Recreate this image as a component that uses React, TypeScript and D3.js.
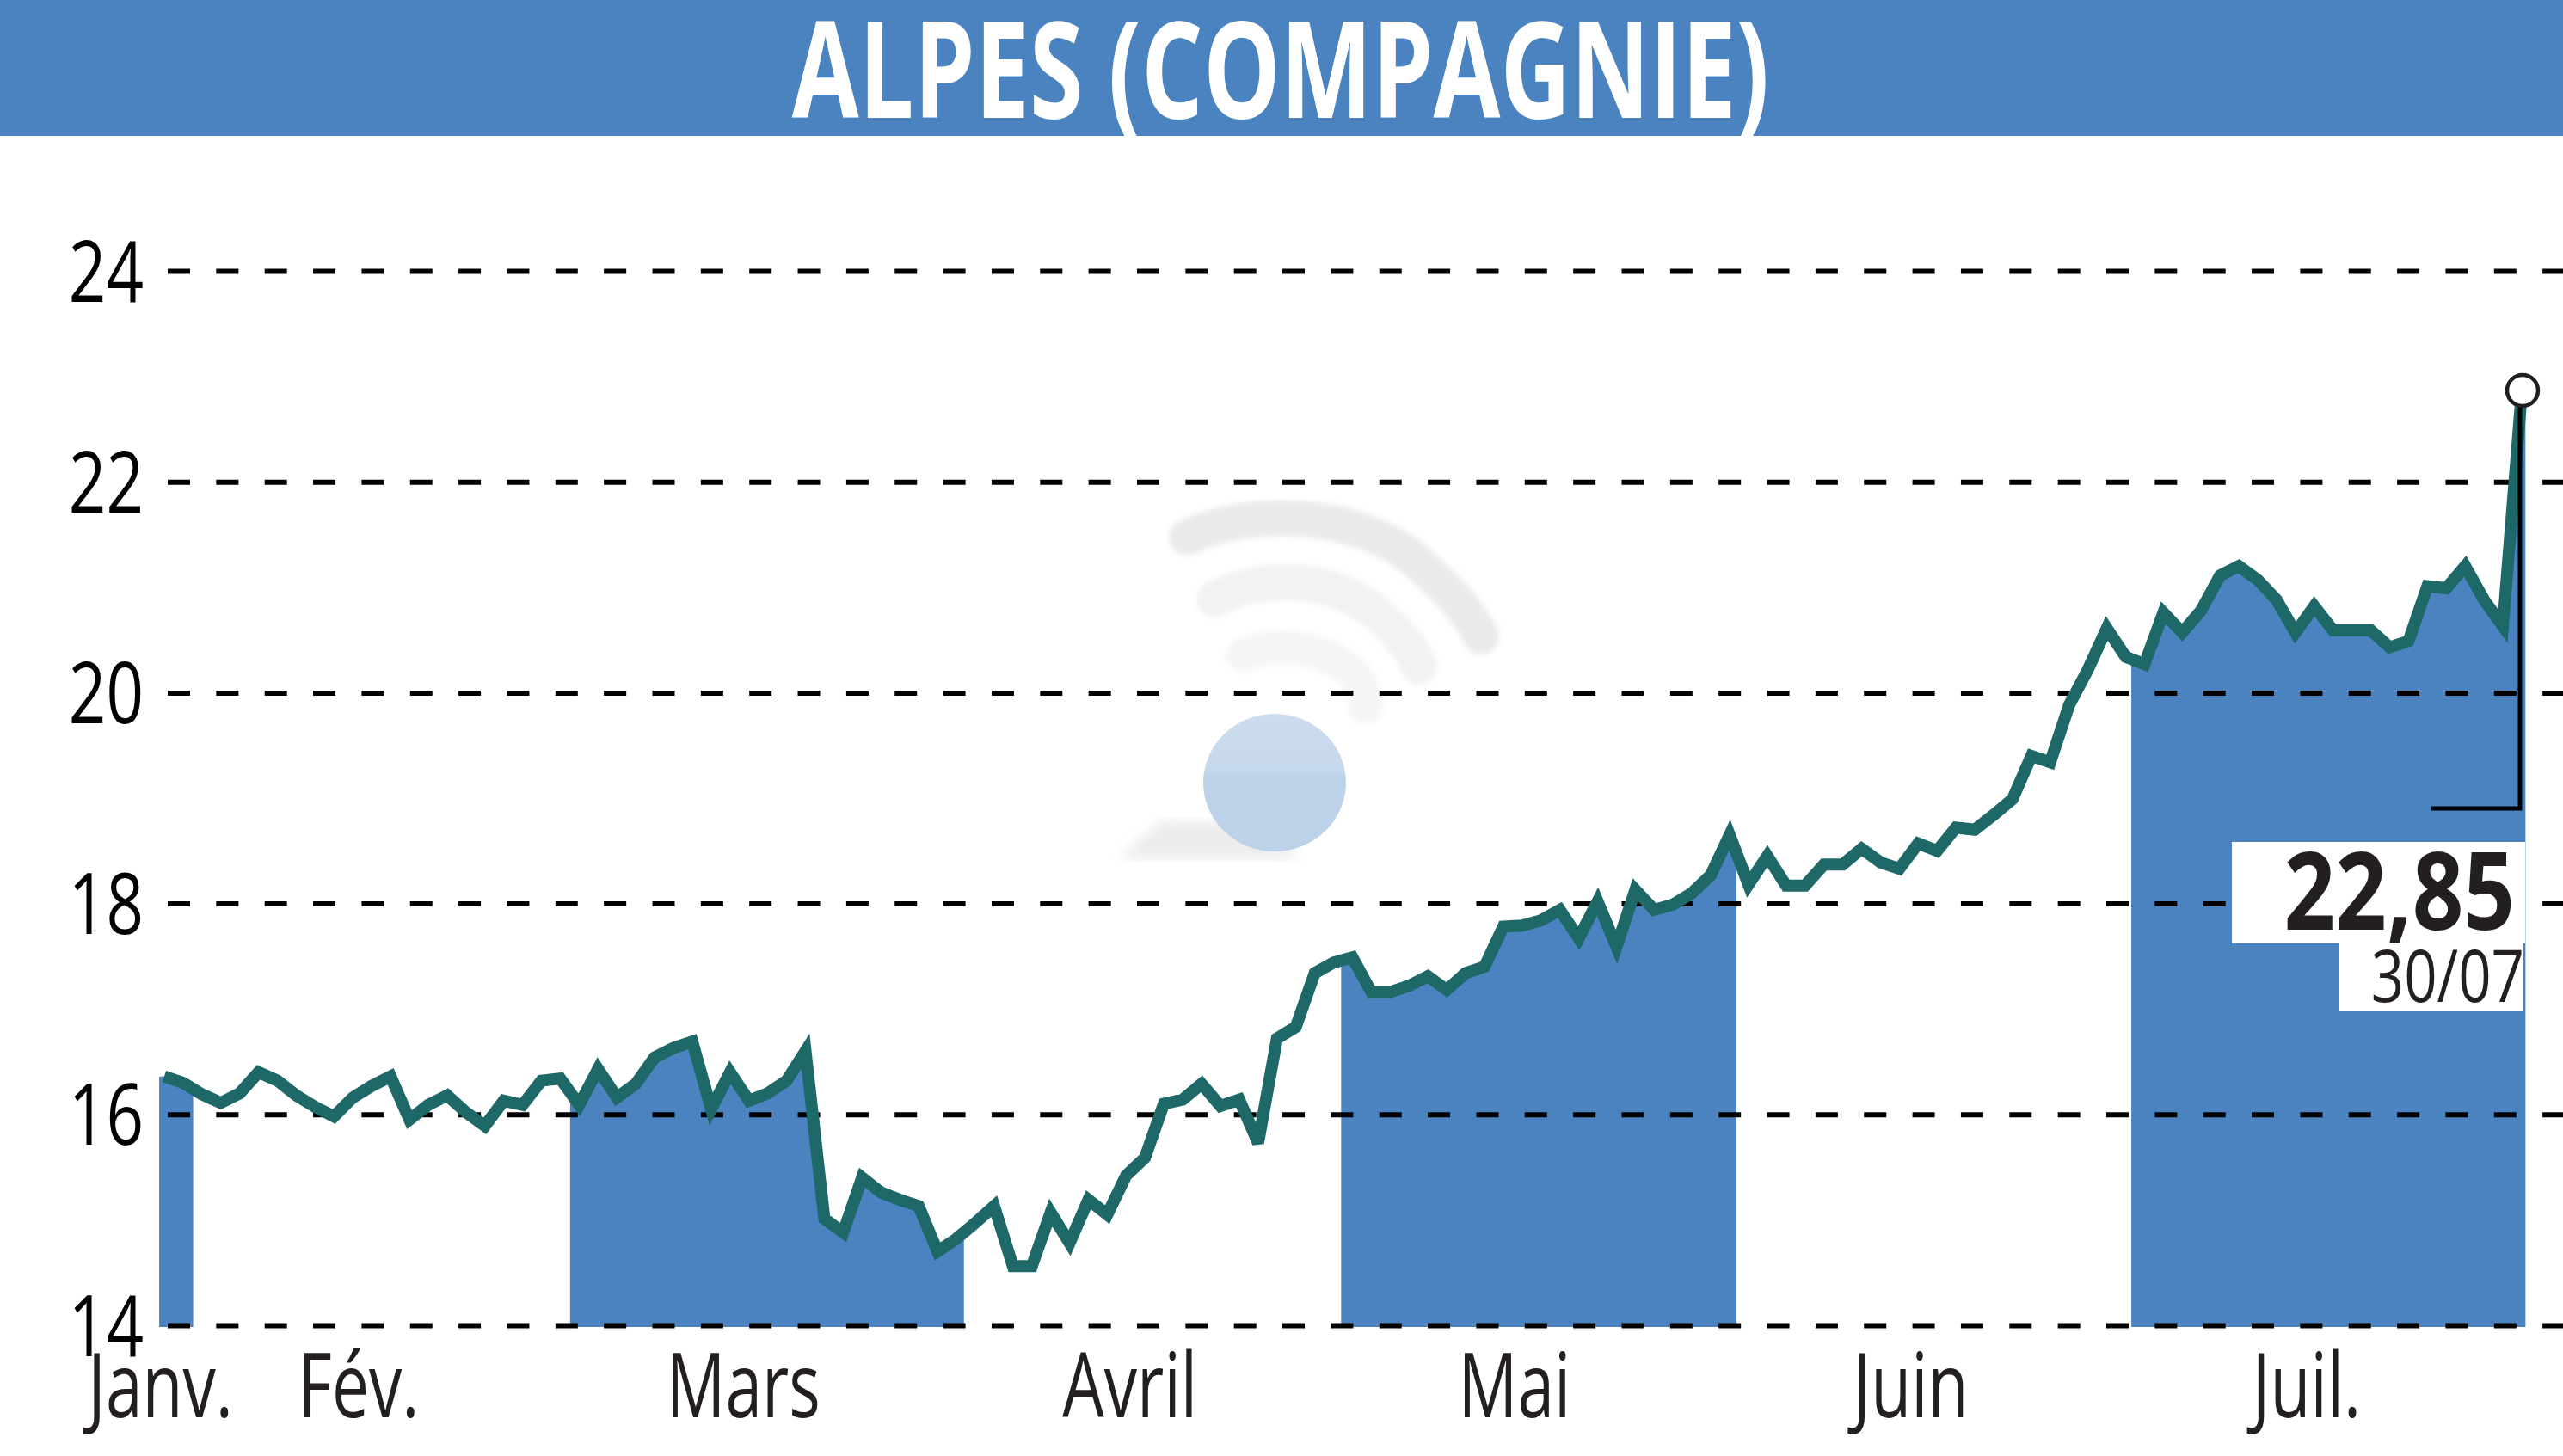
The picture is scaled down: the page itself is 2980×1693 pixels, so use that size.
import React from "react";
import * as d3 from "d3";

const title = "ALPES (COMPAGNIE)";
const lastValueLabel = "22,85";
const lastDateLabel = "30/07";

const yTicks = [14, 16, 18, 20, 22, 24];
const monthLabels = ["Janv.", "Fév.", "Mars", "Avril", "Mai", "Juin", "Juil."];
// trading-day index where the month labels sit
const monthLabelDays = [-0.2, 10.3, 30.7, 51.2, 71.6, 92.6, 113.6];
// trading-day index ranges of the shaded months
const shadedFrom = [-0.27, 21.52, 62.4, 104.3];
const shadedTo = [1.53, 42.4, 83.36, 125.2];

const closes = [
  16.36, 16.3, 16.19, 16.11, 16.2, 16.4, 16.32, 16.18, 16.07, 15.98,
  16.16, 16.27, 16.36, 15.95, 16.09, 16.18, 16.02, 15.89, 16.13, 16.09,
  16.32, 16.34, 16.09, 16.43, 16.16, 16.29, 16.54, 16.63, 16.69, 16.05,
  16.4, 16.13, 16.2, 16.32, 16.6, 15.01, 14.88, 15.4, 15.26, 15.19,
  15.13, 14.7, 14.82, 14.97, 15.13, 14.56, 14.56, 15.07, 14.78, 15.19,
  15.05, 15.42, 15.59, 16.1, 16.14, 16.29, 16.08, 16.14, 15.73, 16.72,
  16.83, 17.34, 17.44, 17.49, 17.16, 17.16, 17.22, 17.31, 17.18, 17.34,
  17.4, 17.78, 17.79, 17.84, 17.94, 17.67, 18.02, 17.59, 18.13, 17.94,
  17.99, 18.1, 18.27, 18.65, 18.18, 18.45, 18.17, 18.17, 18.37, 18.37,
  18.52, 18.39, 18.33, 18.57, 18.5, 18.72, 18.7, 18.84, 18.99, 19.4,
  19.34, 19.88, 20.22, 20.61, 20.34, 20.27, 20.76, 20.57, 20.78, 21.11,
  21.2, 21.07, 20.88, 20.57, 20.82, 20.59, 20.59, 20.59, 20.43, 20.49,
  21.01, 20.99, 21.2, 20.88, 20.63, 22.85,
];

const WIDTH = 2980;
const HEIGHT = 1693;
const FONT = "'Open Sans', sans-serif";
const BLUE = "#4a83bf";
const TEAL = "#1f6868";
const INK = "#231f20";

type Point = { day: number; value: number };

const App: React.FC = () => {
  const svgRef = React.useRef<SVGSVGElement>(null);

  React.useEffect(() => {
    const svg = d3.select(svgRef.current);
    svg.selectAll("*").remove();

    const x = d3.scaleLinear().domain([0, closes.length - 1]).range([191, 2932]);
    const y = d3.scaleLinear().domain([14, 24]).range([1541, 315]);

    const addText = (
      label: string,
      px: number,
      py: number,
      size: number,
      weight: number,
      anchor: string,
      squeeze: number,
      color: string
    ) =>
      svg
        .append("text")
        .attr("transform", `translate(${px},${py}) scale(${squeeze},1)`)
        .attr("font-family", FONT)
        .attr("font-size", size)
        .attr("font-weight", weight)
        .attr("text-anchor", anchor)
        .attr("fill", color)
        .text(label);

    svg.append("rect").attr("width", WIDTH).attr("height", HEIGHT).attr("fill", "white");

    // watermark
    const defs = svg.append("defs");
    const ballGrad = defs.append("linearGradient").attr("id", "ball").attr("x2", 0).attr("y2", 1);
    ballGrad.append("stop").attr("offset", "0").attr("stop-color", "#cddcee");
    ballGrad.append("stop").attr("offset", "0.4").attr("stop-color", "#c6d8ec");
    ballGrad.append("stop").attr("offset", "0.45").attr("stop-color", "#bdd3ea");
    ballGrad.append("stop").attr("offset", "1").attr("stop-color", "#bcd2e9");
    defs.append("filter").attr("id", "soft").append("feGaussianBlur").attr("stdDeviation", 7);
    defs.append("filter").attr("id", "softer").append("feGaussianBlur").attr("stdDeviation", 3);

    const mark = svg
      .append("g")
      .attr("fill", "none")
      .attr("stroke-linecap", "round")
      .attr("filter", "url(#softer)");
    mark
      .append("path")
      .attr("d", "M1380,625 C1450,590 1590,590 1660,665 C1695,695 1712,720 1722,740")
      .attr("stroke", "#e9ebe9")
      .attr("stroke-width", 42);
    mark
      .append("path")
      .attr("d", "M1412,697 C1470,665 1560,670 1610,722 C1635,745 1645,760 1650,775")
      .attr("stroke", "#f0f3f0")
      .attr("stroke-width", 42);
    mark
      .append("path")
      .attr("d", "M1445,762 C1480,745 1540,750 1575,785 C1585,800 1588,810 1588,822")
      .attr("stroke", "#f4f6f4")
      .attr("stroke-width", 40);
    svg
      .append("path")
      .attr("d", "M1300,998 L1350,955 L1470,955 L1510,998 Z")
      .attr("fill", "#ececec")
      .attr("filter", "url(#soft)");
    svg
      .append("ellipse")
      .attr("cx", 1482)
      .attr("cy", 910)
      .attr("rx", 83)
      .attr("ry", 80)
      .attr("fill", "url(#ball)");

    // shaded months, the area under the price clipped to each month
    const fillPoints: Point[] = [
      { day: -1, value: closes[0] },
      ...closes.map((value, day) => ({ day, value })),
      { day: closes.length, value: closes[closes.length - 1] },
    ];
    const area = d3
      .area<Point>()
      .x((d) => x(d.day))
      .y0(y(14) + 2)
      .y1((d) => y(d.value));

    shadedFrom.forEach((from, i) => {
      defs
        .append("clipPath")
        .attr("id", `month_${i}`)
        .append("rect")
        .attr("x", x(from))
        .attr("y", 0)
        .attr("width", x(shadedTo[i]) - x(from))
        .attr("height", HEIGHT);
      svg
        .append("path")
        .attr("d", area(fillPoints))
        .attr("fill", BLUE)
        .attr("clip-path", `url(#month_${i})`);
    });

    // y axis and dashed grid
    const yAxis = d3
      .axisLeft(y)
      .tickValues(yTicks)
      .tickSize(-(WIDTH - 195))
      .tickFormat((d) => String(d));
    const yAxisGroup = svg.append("g").attr("transform", "translate(195,0)").call(yAxis);
    yAxisGroup.select(".domain").remove();
    yAxisGroup
      .selectAll(".tick line")
      .attr("stroke", "black")
      .attr("stroke-width", 6)
      .attr("stroke-dasharray", "26 30.35");
    yAxisGroup
      .selectAll(".tick text")
      .attr("x", 0)
      .attr("dy", 0)
      .attr("transform", "translate(-28,35) scale(0.77,1)")
      .attr("font-family", FONT)
      .attr("font-size", 99)
      .attr("fill", "black");

    // price line
    const line = d3
      .line<number>()
      .x((_, i) => x(i))
      .y((d) => y(d));
    svg
      .append("path")
      .attr("d", line(closes))
      .attr("fill", "none")
      .attr("stroke", TEAL)
      .attr("stroke-width", 14)
      .attr("stroke-linejoin", "miter")
      .attr("stroke-miterlimit", 3);

    // header
    svg.append("rect").attr("width", WIDTH).attr("height", 158).attr("fill", BLUE);
    addText(title, 1489, 137, 157, 700, "middle", 0.72, "white");

    // month labels
    monthLabels.forEach((label, i) => {
      addText(label, x(monthLabelDays[i]), 1648, 105, 400, "middle", 0.73, INK);
    });

    // last value box
    const lastX = x(closes.length - 1);
    const lastY = y(closes[closes.length - 1]);
    svg.append("rect").attr("x", 2595).attr("y", 979).attr("width", 341).attr("height", 118).attr("fill", "white");
    svg.append("rect").attr("x", 2720).attr("y", 1097).attr("width", 214).attr("height", 79).attr("fill", "white");
    svg
      .append("path")
      .attr("d", `M${lastX - 2},${lastY} V940 H2827`)
      .attr("fill", "none")
      .attr("stroke", "black")
      .attr("stroke-width", 5);
    svg
      .append("circle")
      .attr("cx", lastX + 1)
      .attr("cy", lastY - 2)
      .attr("r", 18)
      .attr("fill", "white")
      .attr("stroke", INK)
      .attr("stroke-width", 4.5);
    addText(lastValueLabel, 2924, 1081, 125, 700, "end", 0.835, INK);
    addText(lastDateLabel, 2935, 1165, 85, 400, "end", 0.79, INK);
  }, []);

  return (
    <svg
      ref={svgRef}
      width={WIDTH}
      height={HEIGHT}
      viewBox={`0 0 ${WIDTH} ${HEIGHT}`}
      style={{ position: "absolute", left: 0, top: 0, display: "block" }}
    />
  );
};

export default App;
